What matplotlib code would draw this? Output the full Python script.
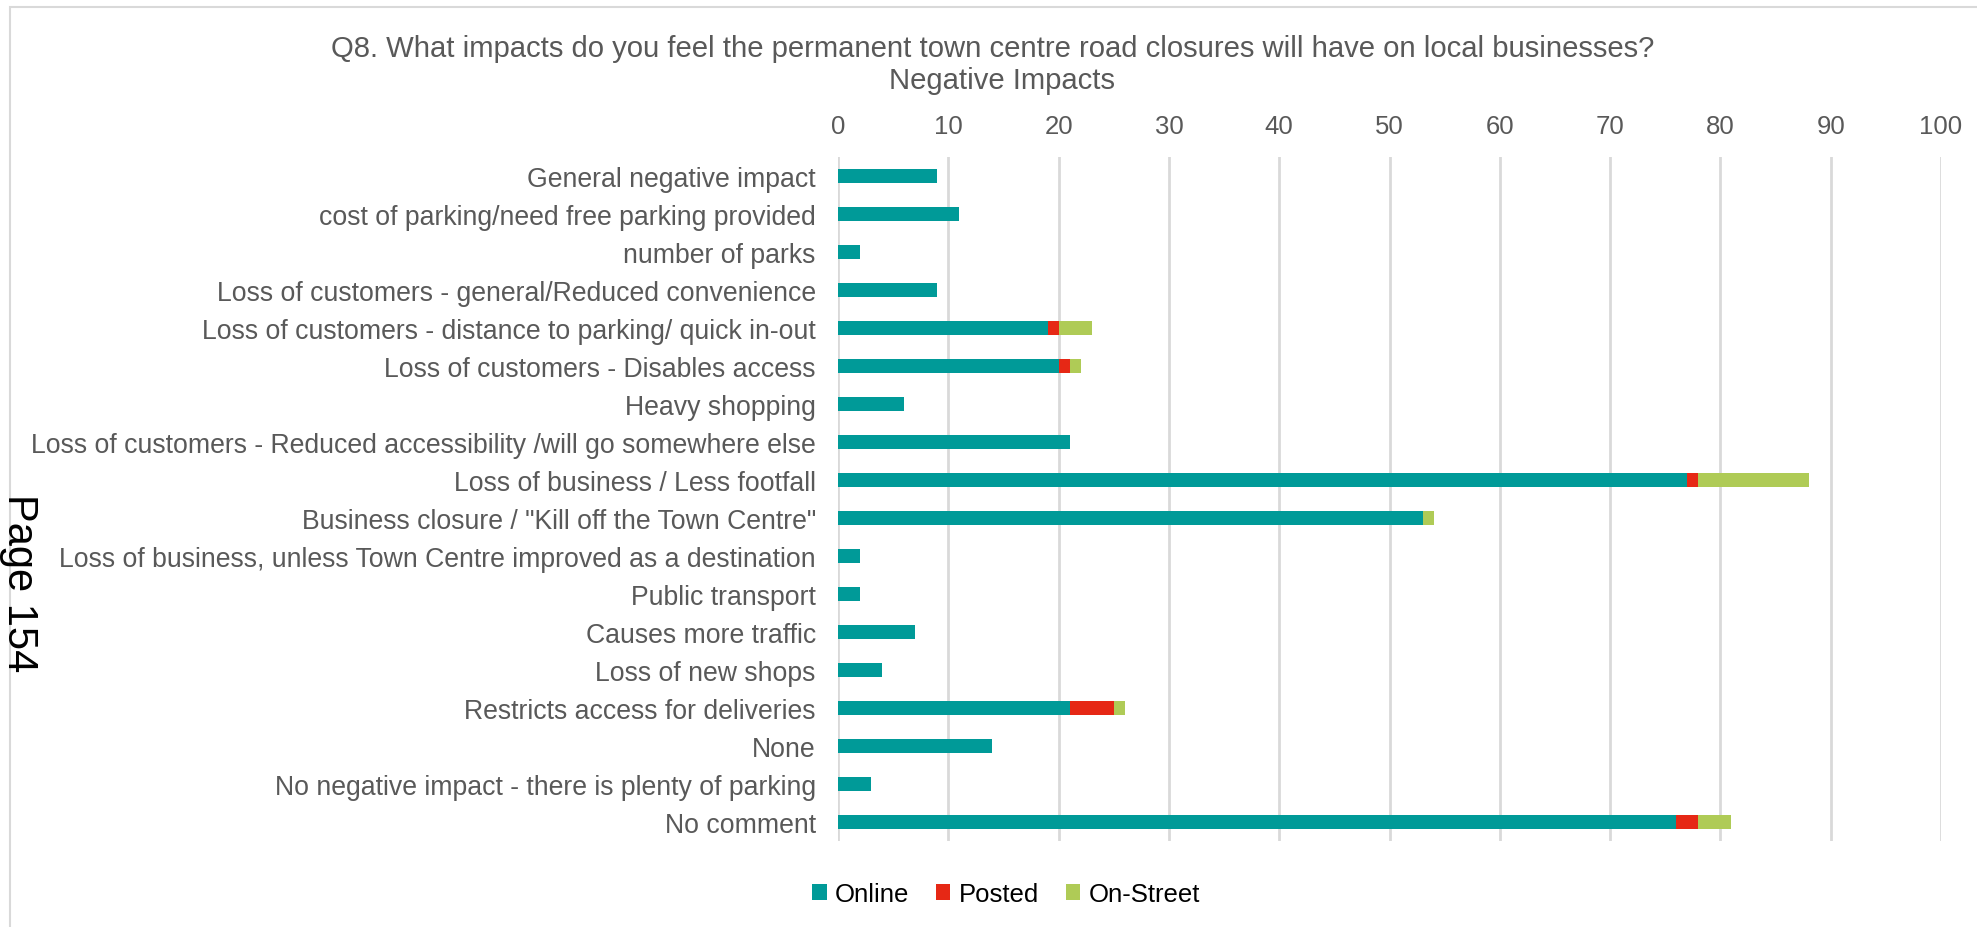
import matplotlib
matplotlib.use("Agg")
import matplotlib.pyplot as plt
import numpy as np
from matplotlib.patches import Patch, Rectangle

plt.rcParams['font.family'] = ['Liberation Sans', 'DejaVu Sans']

categories = [
    "General negative impact",
    "cost of parking/need free parking provided",
    "number of parks",
    "Loss of customers - general/Reduced convenience",
    "Loss of customers - distance to parking/ quick in-out",
    "Loss of customers - Disables access",
    "Heavy shopping",
    "Loss of customers - Reduced accessibility /will go somewhere else",
    "Loss of business / Less footfall",
    "Business closure / \"Kill off the Town Centre\"",
    "Loss of business, unless Town Centre improved as a destination",
    "Public transport",
    "Causes more traffic",
    "Loss of new shops",
    "Restricts access for deliveries",
    "None",
    "No negative impact - there is plenty of parking",
    "No comment",
]
online    = [9, 11, 2, 9, 19, 20, 6, 21, 77, 53, 2, 2, 7, 4, 21, 14, 3, 76]
posted    = [0, 0, 0, 0, 1, 1, 0, 0, 1, 0, 0, 0, 0, 0, 4, 0, 0, 2]
on_street = [0, 0, 0, 0, 3, 1, 0, 0, 10, 1, 0, 0, 0, 0, 1, 0, 0, 3]
series_names = ["Online", "Posted", "On-Street"]
colors = ["#009A98", "#E62815", "#AFCB56"]
x_ticks = list(range(0, 101, 10))

W, H = 1977, 928
fig = plt.figure(figsize=(W / 100, H / 100), dpi=100)
ax = fig.add_axes([838 / W, 1 - 842 / H, (1941 - 838) / W, (842 - 158) / H])

y = np.arange(len(categories))
left = np.zeros(len(categories))
for vals, name, col in zip([online, posted, on_street], series_names, colors):
    vals = np.asarray(vals, dtype=float)
    ax.barh(y, vals, left=left, height=0.35, color=col, label=name, zorder=3)
    left += vals

ax.set_xlim(0, 100)
ax.set_ylim(len(categories) - 0.5, -0.5)
ax.set_xticks(x_ticks)
ax.set_yticks(y)
ax.set_yticklabels(categories)
ax.xaxis.tick_top()
ax.tick_params(axis='x', length=0, pad=14, labelsize=18.5, colors='#595959')
ax.tick_params(axis='y', length=0, pad=16, labelsize=19.2, colors='#595959')
ax.grid(axis='x', color='#D9D9D9', linewidth=2, zorder=0)
for s in ax.spines.values():
    s.set_visible(False)

# chart title
fig.text(993 / W, 1 - 49 / H,
         "Q8. What impacts do you feel the permanent town centre road closures will have on local businesses?",
         ha='center', va='center', fontsize=21.1, color='#595959')
fig.text(1002 / W, 1 - 81 / H, "Negative Impacts",
         ha='center', va='center', fontsize=21.1, color='#595959')

# outer chart frame
fig.patches.append(Rectangle((10 / W, -0.1), 1.2, 1 - 8 / H + 0.1,
                             transform=fig.transFigure, fill=False,
                             edgecolor='#D9D9D9', linewidth=1.5))

# page marker
fig.text(19 / W, 1 - 583 / H, "Page 154", rotation=-90, ha='center', va='center',
         fontsize=30, color='black')

handles = [Patch(facecolor=c, edgecolor='none') for c in colors]
fig.legend(handles, series_names, loc='center', bbox_to_anchor=(1006 / W, 1 - 895 / H),
           ncol=3, frameon=False, fontsize=18.5, handlelength=0.56, handleheight=0.56,
           handletextpad=0.32, columnspacing=1.04, borderaxespad=0, borderpad=0)

fig.savefig("out.png", dpi=100)
